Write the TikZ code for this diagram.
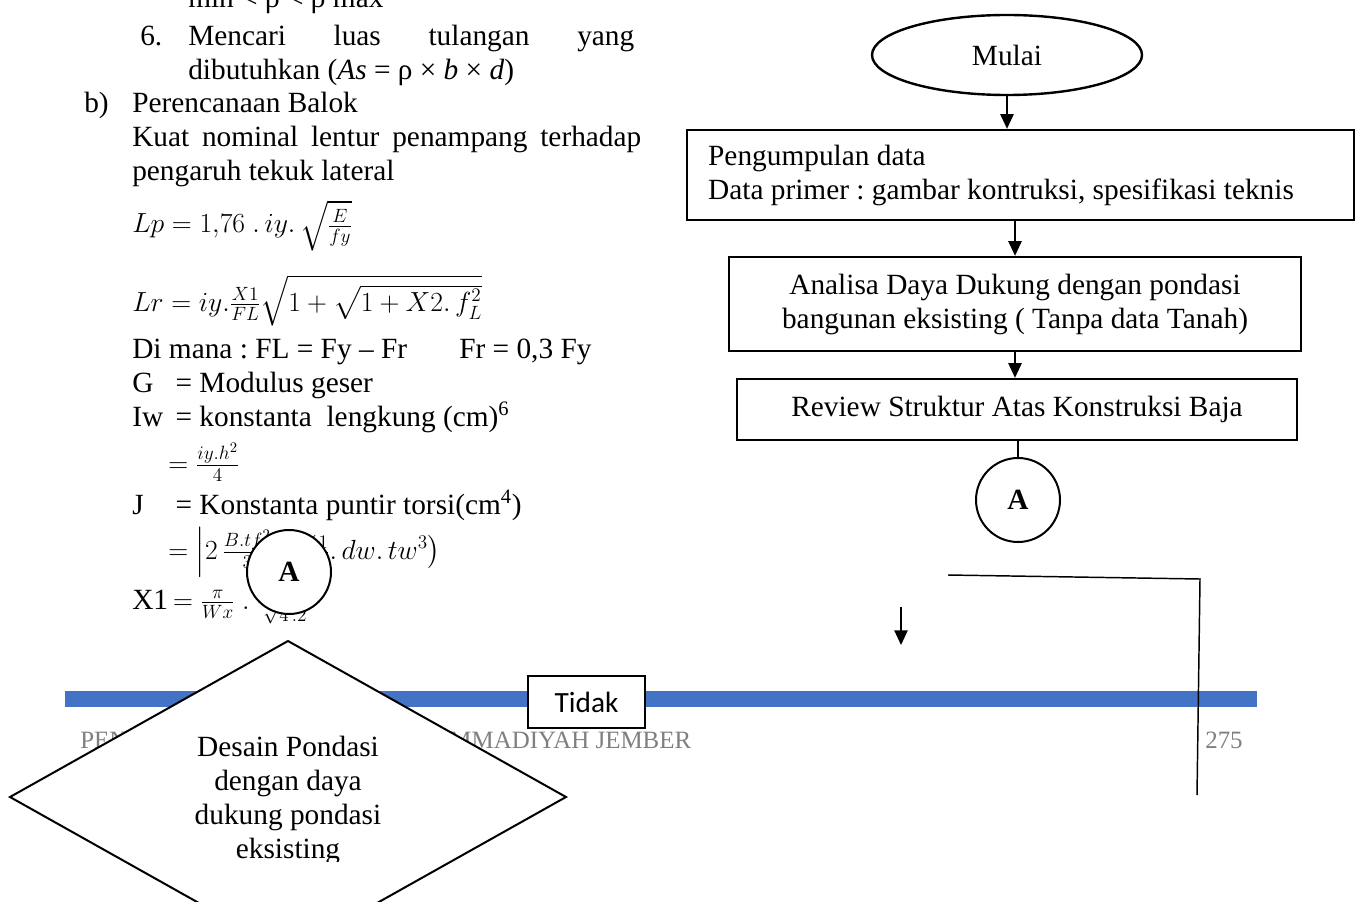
\documentclass[tikz,border=0pt]{standalone}
\usepackage{fontspec}
\setmainfont{Liberation Serif}
\newfontfamily\tidakfont{Carlito}
\usepackage{amsmath}
\usepackage{xcolor}
\usetikzlibrary{shapes.geometric,arrows.meta}
\definecolor{barblue}{HTML}{4472C4}
\definecolor{footgray}{HTML}{7F7F7F}
\newcommand{\bodysize}{\fontsize{22}{25.5}\selectfont\frenchspacing}
\newcommand{\lbl}[1]{\makebox[27pt][l]{#1}}

\tikzset{
  txt/.style={anchor=base west, inner sep=0pt},
  proses/.style={draw, line width=1.8pt, fill=white, inner sep=0pt, align=center},
  konektor/.style={circle, draw, line width=1.5pt, fill=white, minimum size=63pt, inner sep=0pt, font=\bodysize\bfseries},
  panah/.style={line width=1.1pt, -{Triangle[length=11pt,width=10pt]}},
  garis/.style={line width=1.1pt},
}

\begin{document}
\begin{tikzpicture}[x=0.75pt, y=-0.75pt, every node/.append style={font=\bodysize}]
\useasboundingbox (0,0) rectangle (1362,902);
\begin{scope}
\clip (0,0) rectangle (1362,902);

% teks halaman kiri
\node[txt] (rho) at (188,8) {min < ρ < ρ max};
\node[txt] (no6) at (140,46) {6.};
\node[txt] (mencari) at (188,46) {\makebox[334.5pt][s]{Mencari\hfill luas\hfill tulangan\hfill yang}};
\node[txt] (dibutuhkan) at (188,80) {dibutuhkan (\textit{As} = ρ × \textit{b} × \textit{d})};
\node[txt] (pb) at (84,113) {b)};
\node[txt] (balok) at (132,113) {Perencanaan Balok};
\node[txt] (kuat) at (132,147) {\makebox[381.75pt][s]{Kuat\hfill nominal\hfill lentur\hfill penampang\hfill terhadap}};
\node[txt] (tekuk) at (132,181) {pengaruh tekuk lateral};
\node[txt] (lp) at (132,233) {$Lp = 1{,}76\ .\,iy.\,\sqrt{\frac{E}{fy}}$};
\node[txt] (lr) at (132,311) {$Lr = iy.\frac{X1}{FL}\sqrt{1+\sqrt{1+X2.\,f_L^2}}$};
\node[txt] (dimana) at (132,358) {Di mana : FL = Fy – Fr};
\node[txt] (fr) at (459,358) {Fr = 0,3 Fy};
\node[txt] (gmod) at (132,392) {\lbl{G} = Modulus geser};
\node[txt] (iw) at (132,426) {\lbl{Iw} = konstanta\ \ lengkung (cm)\textsuperscript{6}};
\node[txt] (iwrumus) at (168,472) {$=\frac{iy.h^2}{4}$};
\node[txt] (jkons) at (132,514) {\lbl{J} = Konstanta puntir torsi(cm\textsuperscript{4})};
\node[txt] (jrumus) at (168,559) {$=\left|2\,\frac{B.tf^2}{3}+\left(\frac{1}{3}.\,dw.\,tw^3\right)\right.$};
\node[txt] (xsatu) at (132,609) {X1\,$=\frac{\pi}{Wx}\ .\ \frac{\hphantom{\sqrt{4\,.22}}}{\sqrt{4\,.2}}$};

% konektor A kiri
\node[konektor] (conAkiri) at (289,572) {A};

% garis biru dan footer
\fill[barblue] (65,691) rectangle (1257,707);
\node[txt, text=footgray, font=\fontsize{18.7}{22}\selectfont] (footer) at (80,748) {PENERBIT UNIVERSITAS MUHAMMADIYAH JEMBER};
\node[txt, text=footgray, font=\fontsize{18.7}{22}\selectfont] (hal) at (1205,748) {275};

% belah ketupat
\draw[line width=1.5pt, fill=white] (288,641) -- (566,797) -- (288,953) -- (10,797) -- cycle;
\begin{scope}
\clip (0,0) rectangle (1362,861);
\node[align=center, inner sep=0pt] (desain) at (288,800) {Desain Pondasi\\dengan daya\\dukung pondasi\\eksisting};
\end{scope}

\node[draw, line width=1.8pt, fill=white, minimum width=87.75pt, minimum height=39pt, inner sep=0pt, font=\tidakfont\fontsize{22}{25}\selectfont] (tidak) at (586.5,702) {Tidak};

% flowchart kanan
\node[ellipse, draw, line width=1.8pt, minimum width=202.5pt, minimum height=60pt, inner sep=0pt] (mulai) at (1007,55) {Mulai};
\node[proses, align=flush left, text width=468.5pt, inner xsep=15.75pt, minimum height=67.5pt] (kumpul) at (1020.5,175) {Pengumpulan data\\Data primer : gambar kontruksi, spesifikasi teknis};
\node[proses, minimum width=429pt, minimum height=70.5pt] (analisa) at (1015,304) {Analisa Daya Dukung dengan pondasi\\bangunan eksisting ( Tanpa data Tanah)};
\node[proses, minimum width=420pt, minimum height=45.75pt] (review) at (1017,409.5) {Review Struktur Atas Konstruksi Baja};
\node[konektor] (conA) at (1018,500) {A};

\draw[panah] (mulai.south) -- (mulai.south |- kumpul.north);
\draw[panah] (analisa.north |- kumpul.south) -- (analisa.north);
\draw[panah] (analisa.south) -- (analisa.south |- review.north);
\draw[garis] (conA.north |- review.south) -- (conA.north);

% garis lepas
\coordinate (s1) at (948,575);
\coordinate (s2) at (1200,579);
\coordinate (s3) at (1197,795);
\draw[garis] (s1) -- (s2) -- (s3);
\coordinate (t1) at (901,607);
\coordinate (t2) at (901,645);
\draw[panah] (t1) -- (t2);

\end{scope}
\end{tikzpicture}
\end{document}
